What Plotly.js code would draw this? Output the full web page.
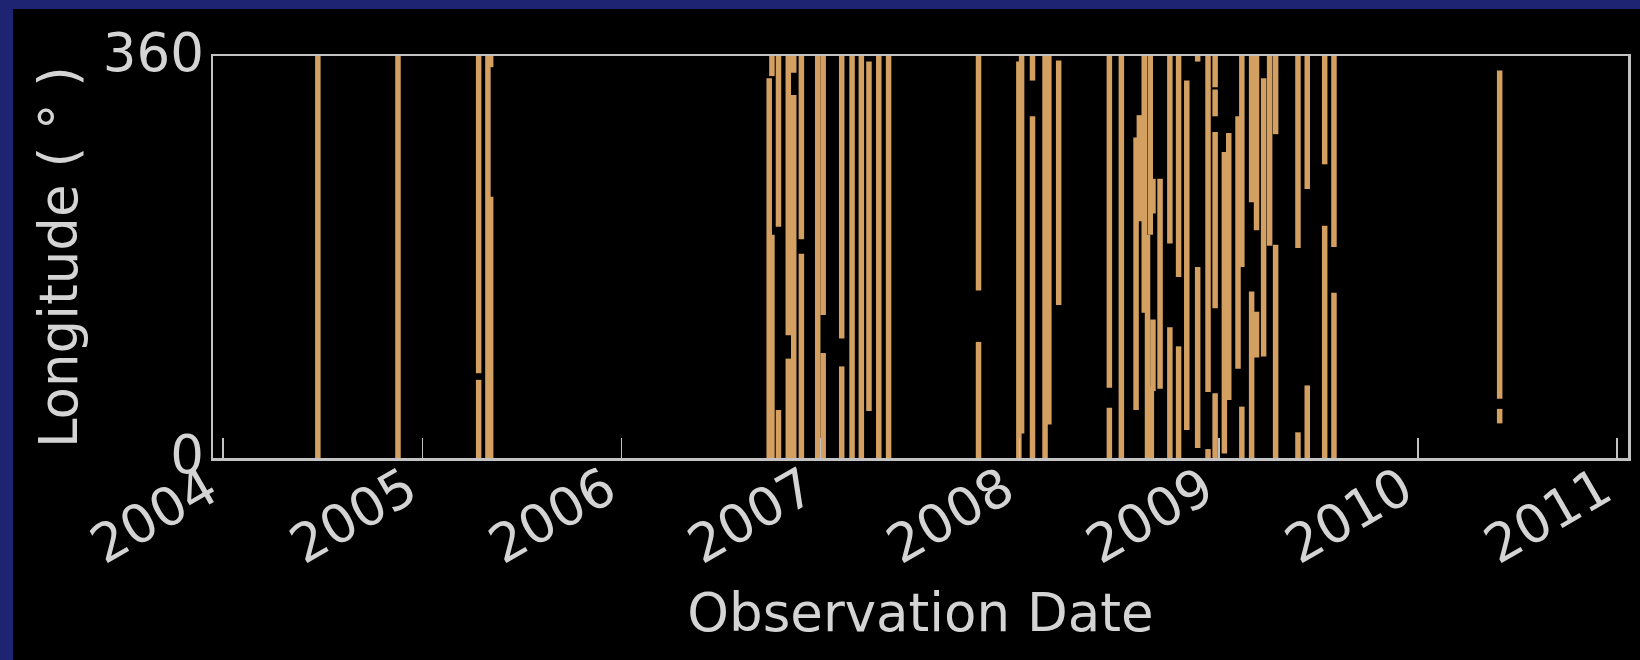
<!DOCTYPE html>
<html>
<head>
<meta charset="utf-8">
<script src="https://cdn.plot.ly/plotly-3.0.1.min.js"></script>
<style>
  html, body { margin: 0; padding: 0; width: 1640px; height: 660px; overflow: hidden; background: #1f2472; }
  #chart { position: absolute; left: 13px; top: 9px; width: 1627px; height: 651px; background: #000; }
</style>
</head>
<body>
<div id="chart"></div>
<script>
// One entry per observed longitude strip: date, start and end longitude (degrees).
// Strips that are interrupted appear as several entries on the same date.
const obsDate = [
  '2004-06-23', '2004-11-17',
  '2005-04-14', '2005-04-14', '2005-05-01', '2005-05-06', '2005-05-06',
  '2006-09-29', '2006-10-04', '2006-10-04', '2006-10-16', '2006-10-16',
  '2006-11-03', '2006-11-03', '2006-11-13', '2006-11-13', '2006-11-27', '2006-11-27',
  '2006-12-27', '2007-01-06', '2007-01-06', '2007-02-09', '2007-02-09',
  '2007-02-28', '2007-03-17', '2007-03-31', '2007-04-18', '2007-05-06',
  '2007-10-18', '2007-10-18', '2007-12-31', '2008-01-05', '2008-01-25', '2008-01-25',
  '2008-02-17', '2008-02-24', '2008-03-13',
  '2008-06-14', '2008-06-14', '2008-07-06',
  '2008-08-02', '2008-08-08', '2008-08-17', '2008-08-23', '2008-08-28', '2008-08-30',
  '2008-09-02', '2008-09-02', '2008-09-15',
  '2008-10-03', '2008-10-03', '2008-10-19', '2008-10-19', '2008-11-03',
  '2008-11-23', '2008-11-23', '2008-12-12', '2008-12-12',
  '2008-12-25', '2008-12-25', '2008-12-25', '2008-12-25',
  '2009-01-11', '2009-01-19', '2009-02-05', '2009-02-12', '2009-02-12',
  '2009-03-02', '2009-03-02', '2009-03-11', '2009-03-11', '2009-03-24',
  '2009-04-04', '2009-04-15', '2009-04-15',
  '2009-05-26', '2009-05-26', '2009-06-12', '2009-06-12',
  '2009-07-14', '2009-07-14', '2009-07-31', '2009-07-31',
  '2010-05-31', '2010-05-31'
];
const lonStart = [
  0, 0,
  0, 76, 0, 0, 350,
  0, 0, 342, 0, 207,
  0, 110, 0, 345, 0, 196,
  0, 0, 128, 0, 107,
  0, 0, 42, 0, 0,
  0, 150, 0, 22, 0, 338,
  0, 30, 137,
  0, 63, 0,
  43, 212, 130, 0, 200, 0,
  60, 219, 62,
  0, 192, 0, 162, 25,
  9, 355, 0, 59,
  0, 134, 306, 332,
  4, 52, 80, 0, 171,
  0, 229, 90, 204, 91,
  190, 0, 290,
  0, 188, 0, 241,
  0, 263, 0, 189,
  31, 53
];
const lonEnd = [
  360, 360,
  70, 360, 360, 234, 360,
  340, 200, 360, 43, 360,
  89, 360, 325, 360, 183, 360,
  360, 94, 360, 82, 360,
  360, 360, 355, 360, 360,
  104, 360, 355, 360, 306, 360,
  360, 360, 356,
  45, 360, 360,
  287, 307, 360, 200, 360, 64,
  124, 250, 250,
  117, 360, 100, 360, 338,
  171, 360, 8, 360,
  58, 292, 330, 360,
  274, 291, 306, 46, 360,
  149, 360, 131, 360, 340,
  360, 191, 360,
  23, 360, 65, 360,
  208, 360, 148, 360,
  44, 347
];

const yearTicks  = ['2004-01-01', '2005-01-01', '2006-01-01', '2007-01-01',
                    '2008-01-01', '2009-01-01', '2010-01-01', '2011-01-01'];
const yearLabels = ['2004', '2005', '2006', '2007', '2008', '2009', '2010', '2011'];
const lonTicks = [0, 360];

// Build vertical strips separated by gaps
const xs = [], ys = [];
obsDate.forEach((d, i) => {
  xs.push(d, d, null);
  ys.push(lonStart[i], lonEnd[i], null);
});

const axisGrey = '#c2c2c2';
const textGrey = '#d4d4d4';
const stripColor = '#d3a062';
const fontSize = 53;

const trace = {
  type: 'scatter',
  mode: 'lines',
  x: xs,
  y: ys,
  connectgaps: false,
  line: { color: stripColor, width: 5.5 },
  hoverinfo: 'skip'
};

const layout = {
  width: 1627,
  height: 651,
  paper_bgcolor: '#000',
  plot_bgcolor: '#000',
  margin: { l: 200, r: 12, t: 47, b: 202 },
  showlegend: false,
  font: { family: 'DejaVu Sans', color: textGrey, size: fontSize },
  xaxis: {
    type: 'date',
    range: ['2003-12-13 16:00', '2011-01-21 10:00'],
    tickmode: 'array',
    tickvals: yearTicks,
    ticktext: yearLabels,
    ticks: 'inside',
    ticklen: 20,
    tickwidth: 1.5,
    tickcolor: axisGrey,
    tickangle: -30,
    ticklabelshift: -15,
    ticklabelstandoff: -23,
    tickfont: { family: 'DejaVu Sans', size: fontSize, color: textGrey },
    showline: true,
    mirror: true,
    linecolor: axisGrey,
    linewidth: 2.5,
    showgrid: false,
    zeroline: false,
    automargin: false,
    title: { text: 'Observation Date', font: { family: 'DejaVu Sans', size: fontSize, color: textGrey }, standoff: 20 }
  },
  yaxis: {
    range: [0, 360],
    tickmode: 'array',
    tickvals: lonTicks,
    ticktext: lonTicks.map(String),
    ticks: '',
    ticklabelstandoff: -4,
    ticklabelshift: -4,
    tickfont: { family: 'DejaVu Sans', size: fontSize, color: textGrey },
    showline: true,
    mirror: true,
    linecolor: axisGrey,
    linewidth: 2.5,
    showgrid: false,
    zeroline: false,
    automargin: false,
    title: { text: 'Longitude ( ° )', font: { family: 'DejaVu Sans', size: fontSize, color: textGrey }, standoff: 8 }
  }
};

Plotly.newPlot('chart', [trace], layout, { displayModeBar: false, staticPlot: true });
</script>
</body>
</html>
